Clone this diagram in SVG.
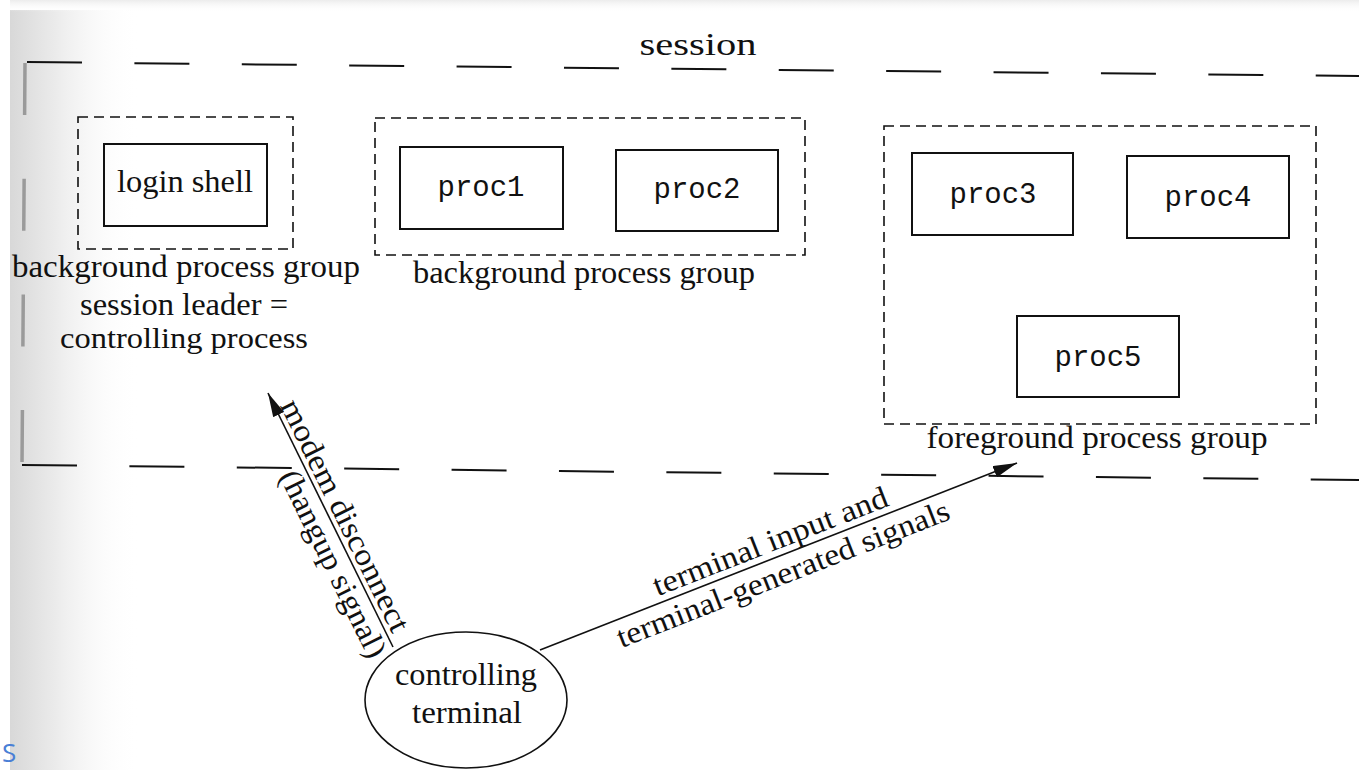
<svg xmlns="http://www.w3.org/2000/svg" width="1359" height="770" viewBox="0 0 1359 770">
  <defs>
    <linearGradient id="shade" x1="0" y1="0" x2="1" y2="0">
      <stop offset="0" stop-color="#d8d8d8"/>
      <stop offset="0.35" stop-color="#ebebeb"/>
      <stop offset="1" stop-color="#ffffff" stop-opacity="0"/>
    </linearGradient>
    <linearGradient id="topshade" x1="0" y1="0" x2="0" y2="1">
      <stop offset="0" stop-color="#ececec"/>
      <stop offset="1" stop-color="#ffffff" stop-opacity="0"/>
    </linearGradient>
    <marker id="ah" viewBox="0 0 24 12" refX="24" refY="6" markerWidth="24" markerHeight="12" markerUnits="userSpaceOnUse" orient="auto">
      <path d="M0,0 L24,6 L0,12 z" fill="#111"/>
    </marker>
    <style>
      .serif { font-family: "Liberation Serif", "DejaVu Serif", serif; font-size: 31px; fill: #111; }
      .mono { font-family: "Liberation Mono", "DejaVu Sans Mono", monospace; font-size: 29px; fill: #111; }
      .box { fill: none; stroke: #111; stroke-width: 2; }
      .grp { fill: none; stroke: #111; stroke-width: 1.6; stroke-dasharray: 10 6; }
      .sess { fill: none; stroke: #111; stroke-width: 2; stroke-dasharray: 55 52.4; }
      .conn { fill: none; stroke: #111; stroke-width: 1.6; }
    </style>
  </defs>

  <rect x="0" y="0" width="1359" height="770" fill="#ffffff"/>
  <rect x="10" y="10" width="130" height="760" fill="url(#shade)"/>
  <rect x="10" y="0" width="1349" height="12" fill="url(#topshade)"/>

  <g id="session">
    <line class="sess" x1="27" y1="62" x2="1359" y2="76"/>
    <line class="sess" x1="22" y1="465" x2="1359" y2="480"/>
    <line x1="25" y1="63" x2="22" y2="465" stroke="#9a9a9a" stroke-width="3.5" stroke-dasharray="52 63.7"/>
    <text class="serif" x="698" y="55" text-anchor="middle" textLength="117" lengthAdjust="spacingAndGlyphs">session</text>
  </g>

  <g id="group-login">
    <rect class="grp" x="78" y="117" width="215" height="132"/>
    <text class="serif" x="186" y="277" text-anchor="middle" textLength="348" lengthAdjust="spacingAndGlyphs">background process group</text>
    <text class="serif" x="184" y="315" text-anchor="middle" font-size="30" textLength="208" lengthAdjust="spacingAndGlyphs">session leader =</text>
    <text class="serif" x="184" y="348" text-anchor="middle" font-size="30" style="font-size:30px" textLength="248" lengthAdjust="spacingAndGlyphs">controlling process</text>
  </g>
  <g id="login-shell">
    <rect class="box" x="104" y="144" width="163" height="82"/>
    <text class="serif" x="185" y="192" text-anchor="middle" textLength="136" lengthAdjust="spacingAndGlyphs">login shell</text>
  </g>

  <g id="group-bg">
    <rect class="grp" x="375" y="118" width="430" height="137"/>
    <text class="serif" x="584" y="283" text-anchor="middle" textLength="342" lengthAdjust="spacingAndGlyphs">background process group</text>
  </g>
  <g id="proc1">
    <rect class="box" x="400" y="147" width="163" height="82"/>
    <text class="mono" x="481" y="196" text-anchor="middle">proc1</text>
  </g>
  <g id="proc2">
    <rect class="box" x="616" y="150" width="162" height="81"/>
    <text class="mono" x="697" y="198" text-anchor="middle">proc2</text>
  </g>

  <g id="group-fg">
    <rect class="grp" x="884" y="126" width="432" height="298"/>
    <text class="serif" x="1097" y="448" text-anchor="middle" textLength="341" lengthAdjust="spacingAndGlyphs">foreground process group</text>
  </g>
  <g id="proc3">
    <rect class="box" x="912" y="153" width="161" height="82"/>
    <text class="mono" x="993" y="203" text-anchor="middle">proc3</text>
  </g>
  <g id="proc4">
    <rect class="box" x="1127" y="156" width="162" height="82"/>
    <text class="mono" x="1208" y="206" text-anchor="middle">proc4</text>
  </g>
  <g id="proc5">
    <rect class="box" x="1017" y="316" width="162" height="81"/>
    <text class="mono" x="1098" y="366" text-anchor="middle">proc5</text>
  </g>

  <g id="terminal">
    <ellipse cx="466" cy="700" rx="101" ry="68" fill="none" stroke="#111" stroke-width="1.6"/>
    <text class="serif" x="466" y="685" text-anchor="middle" textLength="142" lengthAdjust="spacingAndGlyphs">controlling</text>
    <text class="serif" x="467" y="723" text-anchor="middle" textLength="110" lengthAdjust="spacingAndGlyphs">terminal</text>
  </g>

  <g id="connectors">
    <line class="conn" x1="393" y1="647" x2="268" y2="393" marker-end="url(#ah)"/>
    <line class="conn" x1="540" y1="650" x2="1017" y2="463" marker-end="url(#ah)"/>
    <g transform="translate(268,393) rotate(63.8)">
      <text class="serif" x="144" y="-5" text-anchor="middle" textLength="255" lengthAdjust="spacingAndGlyphs">modem disconnect</text>
      <text class="serif" x="182" y="27" text-anchor="middle" textLength="205" lengthAdjust="spacingAndGlyphs">(hangup signal)</text>
    </g>
    <g transform="translate(540,650) rotate(-21.4)">
      <text class="serif" x="254" y="-7" text-anchor="middle" textLength="250" lengthAdjust="spacingAndGlyphs">terminal input and</text>
      <text class="serif" x="254" y="28" text-anchor="middle" textLength="355" lengthAdjust="spacingAndGlyphs">terminal-generated signals</text>
    </g>
  </g>

  <text x="2" y="762" font-family="'Open Sans', 'Noto Sans', sans-serif" font-size="26" fill="#4a7fd6">S</text>
</svg>
